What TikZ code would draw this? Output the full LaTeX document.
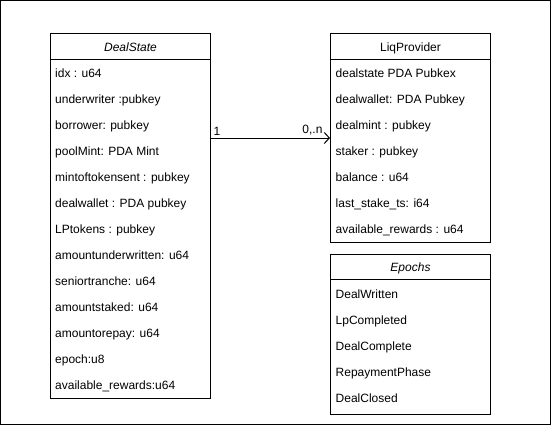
\documentclass[tikz,border=0pt]{standalone}
\usepackage{fontspec}
\setmainfont{Liberation Sans}
\usetikzlibrary{arrows.meta,positioning}
\tikzset{
  box/.style={draw,line width=1pt,minimum width=160pt,inner sep=0pt},
  head/.style={anchor=base,inner sep=0pt},
  field/.style={anchor=base west,inner sep=0pt},
}
\begin{document}
\begin{tikzpicture}[>={Straight Barb[length=5pt,width=11pt]},x=1pt,y=-1pt,font=\fontsize{12}{14}\selectfont]
		\useasboundingbox (0,0) rectangle (551,425);
		\draw[line width=1pt] (0.5,0.5) rectangle (550.5,424.5);
		\node[box,minimum height=364pt] (deal) at (130.5,216) {};
		\node[box,minimum height=208pt] (liq) at (410.5,138) {};
		\node[box,minimum height=160pt] (epochs) at (410.5,334) {};
		\draw[line width=1pt] (deal.north west) ++(0,26) -- ++(160,0);
		\draw[line width=1pt] (liq.north west) ++(0,26) -- ++(160,0);
		\draw[line width=1pt] (epochs.north west) ++(0,26) -- ++(160,0);
		\node[head] (dealhead) at (130.5,51.5) {\itshape DealState};
		\node[head] (liqhead) at (410.5,51.5) {LiqProvider};
		\node[head] (epochshead) at (410.5,271.5) {\itshape Epochs};
		\foreach \txt [count=\i] in {idx : u64, underwriter :pubkey, borrower: pubkey, poolMint: PDA Mint, mintoftokensent : pubkey, dealwallet : PDA pubkey, LPtokens : pubkey, amountunderwritten: u64, seniortranche: u64, amountstaked: u64, amountorepay: u64, epoch:u8, available\_rewards:u64}
			\node[field] (deal\i) at (55,51.5+26*\i) {\txt};
		\foreach \txt [count=\i] in {dealstate PDA Pubkex, dealwallet: PDA Pubkey, dealmint : pubkey, staker : pubkey, balance : u64, last\_stake\_ts: i64, available\_rewards : u64}
			\node[field] (liq\i) at (335.5,51.5+26*\i) {\txt};
		\foreach \txt [count=\i] in {DealWritten, LpCompleted, DealComplete, RepaymentPhase, DealClosed}
			\node[field] (epochs\i) at (335.5,272+26*\i) {\txt};
		\draw[->,line width=1pt] (deal.east |- liq.west) -- (liq.west)
			node[pos=0,above right,inner sep=2pt] {1}
			node[pos=1,above left,inner sep=2pt,xshift=-5pt] {0,.n};
		\end{tikzpicture}
\end{document}
